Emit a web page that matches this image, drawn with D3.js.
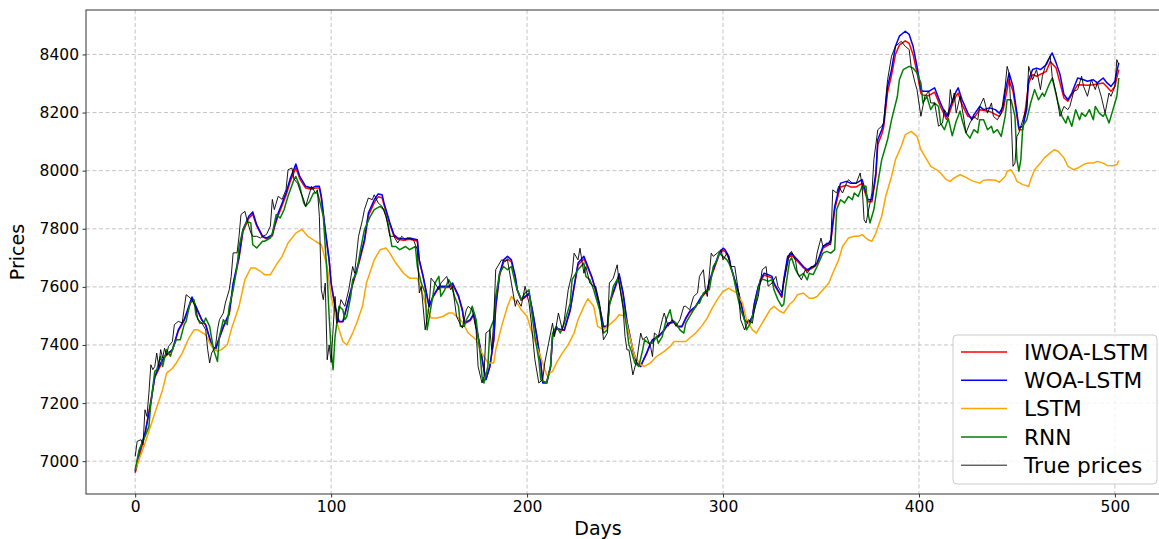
<!DOCTYPE html>
<html>
<head>
<meta charset="utf-8">
<script src="https://cdn.jsdelivr.net/npm/d3@7"></script>
<style>
body { margin: 0; background: #fff; }
text { font-family: "DejaVu Sans", sans-serif; fill: #000; }
</style>
</head>
<body>
<svg id="chart" width="1159" height="539"></svg>
<script>
// values, as [day, price] pairs
var xTicks = [0, 100, 200, 300, 400, 500];
var yTicks = [7000, 7200, 7400, 7600, 7800, 8000, 8200, 8400];
var seriesNames = ["IWOA-LSTM", "WOA-LSTM", "LSTM", "RNN", "True prices"];

var iwoaLstm = [[0,6960],[5,7092],[10,7288],[15,7358],[19,7382],[22,7448],[25,7484],[29,7558],[31,7530],[34,7485],[36,7468],[39,7400],[41,7384],[42,7405],[45,7460],[48,7505],[50,7605],[53,7698],[55,7790],[58,7836],[60,7850],[62,7810],[65,7772],[67,7765],[70,7776],[71,7803],[73,7846],[75,7880],[77,7915],[79,7960],[82,8010],[84,7972],[87,7940],[90,7936],[92,7940],[94,7940],[95,7906],[97,7792],[99,7690],[100,7610],[102,7530],[104,7480],[106,7480],[108,7530],[111,7608],[114,7676],[117,7755],[119,7845],[122,7890],[124,7910],[126,7907],[127,7882],[130,7815],[132,7776],[134,7764],[137,7760],[140,7764],[144,7758],[145,7690],[147,7632],[149,7565],[150,7532],[152,7565],[155,7598],[160,7598],[162,7608],[165,7566],[167,7518],[168,7473],[171,7484],[173,7506],[174,7462],[176,7394],[178,7314],[179,7282],[181,7326],[183,7416],[184,7528],[186,7640],[188,7685],[190,7696],[192,7686],[194,7632],[195,7588],[197,7554],[199,7564],[201,7576],[203,7508],[205,7428],[207,7338],[208,7272],[210,7272],[212,7326],[213,7426],[215,7455],[219,7450],[222,7518],[224,7598],[226,7675],[229,7696],[230,7682],[233,7632],[235,7588],[237,7530],[239,7462],[241,7462],[242,7540],[245,7598],[247,7638],[249,7576],[251,7478],[253,7414],[254,7382],[256,7338],[258,7326],[259,7342],[261,7370],[263,7404],[264,7416],[267,7427],[270,7450],[272,7472],[275,7478],[277,7462],[279,7462],[281,7490],[283,7512],[286,7530],[289,7563],[292,7586],[293,7614],[295,7654],[298,7710],[300,7726],[301,7722],[303,7700],[304,7667],[306,7622],[308,7576],[310,7519],[311,7486],[313,7474],[315,7496],[316,7540],[318,7597],[320,7630],[321,7640],[323,7636],[325,7630],[326,7609],[328,7586],[330,7564],[331,7620],[333,7698],[335,7710],[337,7695],[338,7688],[341,7666],[343,7655],[346,7666],[348,7678],[351,7733],[354,7745],[355,7755],[357,7866],[359,7922],[360,7944],[363,7950],[365,7944],[368,7944],[371,7956],[372,7934],[374,7893],[376,7893],[378,7980],[379,8090],[381,8125],[382,8150],[384,8270],[386,8328],[388,8400],[390,8432],[393,8447],[395,8438],[397,8400],[399,8338],[401,8266],[402,8260],[405,8258],[408,8270],[409,8254],[411,8220],[414,8177],[415,8188],[417,8228],[419,8258],[420,8267],[422,8227],[425,8187],[428,8181],[431,8210],[436,8204],[441,8187],[443,8210],[446,8313],[448,8273],[450,8187],[451,8141],[453,8141],[456,8302],[458,8331],[460,8325],[465,8342],[467,8376],[470,8353],[474,8250],[476,8239],[481,8296],[486,8294],[489,8296],[494,8302],[496,8288],[498,8273],[500,8290],[501,8320],[502,8348]];

var woaLstm = [[0,6965],[2,7030],[5,7096],[8,7200],[10,7292],[13,7338],[15,7361],[19,7384],[22,7452],[25,7487],[29,7565],[31,7533],[34,7487],[36,7470],[39,7401],[41,7384],[42,7407],[45,7464],[48,7510],[50,7613],[53,7705],[55,7797],[58,7843],[60,7858],[62,7814],[65,7774],[67,7768],[70,7780],[71,7809],[73,7854],[75,7889],[77,7924],[79,7970],[82,8023],[84,7980],[87,7946],[90,7940],[92,7946],[94,7946],[95,7912],[97,7797],[99,7693],[100,7613],[102,7533],[104,7481],[106,7481],[108,7533],[111,7613],[114,7682],[117,7762],[119,7854],[122,7900],[124,7920],[126,7917],[127,7889],[130,7820],[132,7780],[134,7768],[137,7765],[140,7768],[144,7762],[145,7693],[147,7636],[149,7567],[150,7533],[152,7567],[155,7602],[157,7602],[160,7602],[162,7613],[165,7570],[167,7521],[168,7475],[171,7487],[173,7510],[174,7464],[176,7395],[178,7315],[179,7280],[181,7326],[183,7418],[184,7533],[186,7647],[188,7693],[190,7705],[192,7693],[194,7636],[195,7590],[197,7556],[199,7567],[201,7579],[203,7510],[205,7429],[207,7338],[208,7269],[210,7269],[212,7326],[213,7429],[215,7458],[218,7452],[219,7452],[222,7521],[224,7602],[226,7682],[229,7705],[230,7688],[233,7636],[235,7590],[237,7533],[239,7464],[241,7464],[242,7544],[245,7602],[247,7645],[249,7579],[251,7480],[253,7415],[254,7383],[256,7338],[258,7326],[259,7343],[261,7372],[263,7406],[264,7418],[267,7429],[270,7452],[272,7475],[275,7481],[277,7464],[279,7464],[281,7493],[283,7516],[286,7533],[289,7567],[292,7590],[293,7619],[295,7659],[298,7716],[300,7733],[301,7728],[303,7705],[304,7670],[306,7625],[308,7579],[310,7521],[311,7487],[313,7475],[315,7498],[316,7544],[318,7602],[320,7636],[321,7647],[323,7642],[325,7636],[326,7613],[328,7590],[330,7567],[331,7625],[333,7705],[335,7716],[337,7700],[338,7693],[341,7670],[343,7659],[346,7670],[348,7682],[351,7739],[354,7751],[355,7762],[357,7877],[359,7934],[360,7957],[363,7963],[365,7957],[368,7957],[371,7969],[372,7946],[374,7900],[376,7900],[378,7992],[379,8107],[381,8141],[382,8164],[384,8290],[386,8348],[388,8428],[390,8463],[393,8480],[395,8469],[397,8428],[399,8359],[401,8279],[402,8273],[405,8273],[408,8285],[409,8267],[411,8233],[414,8187],[415,8200],[417,8240],[419,8273],[420,8285],[422,8244],[425,8198],[427,8175],[428,8192],[431,8221],[433,8210],[436,8216],[439,8210],[441,8198],[443,8221],[444,8273],[446,8336],[448,8290],[450,8198],[451,8147],[453,8153],[455,8210],[456,8313],[458,8348],[460,8353],[462,8348],[465,8365],[467,8394],[468,8405],[470,8371],[472,8331],[474,8262],[476,8244],[478,8267],[481,8319],[484,8313],[486,8308],[489,8313],[491,8302],[494,8319],[496,8302],[498,8290],[500,8308],[501,8342],[502,8371]];

var lstm = [[0,6970],[5,7062],[10,7165],[14,7246],[16,7303],[19,7320],[21,7338],[24,7372],[27,7418],[30,7452],[32,7452],[36,7435],[39,7395],[42,7378],[44,7384],[47,7401],[49,7452],[53,7533],[56,7625],[59,7665],[61,7665],[64,7653],[66,7642],[69,7642],[72,7676],[75,7705],[78,7751],[82,7785],[85,7798],[88,7775],[92,7757],[95,7745],[98,7670],[100,7567],[103,7475],[106,7412],[108,7400],[111,7441],[113,7475],[116,7533],[118,7613],[122,7693],[125,7728],[128,7734],[130,7716],[133,7682],[137,7647],[140,7630],[144,7630],[146,7590],[149,7521],[151,7493],[154,7493],[157,7498],[160,7510],[162,7510],[165,7493],[167,7478],[170,7441],[174,7418],[177,7372],[180,7338],[183,7338],[184,7383],[187,7464],[190,7533],[192,7567],[195,7544],[197,7521],[200,7498],[202,7452],[205,7395],[208,7338],[210,7297],[213,7309],[215,7338],[218,7372],[221,7401],[224,7441],[226,7487],[229,7533],[231,7559],[234,7533],[236,7464],[239,7452],[241,7464],[245,7487],[247,7504],[250,7500],[252,7440],[255,7360],[258,7332],[260,7326],[263,7338],[266,7360],[270,7378],[273,7395],[275,7412],[278,7412],[281,7412],[283,7424],[286,7441],[289,7464],[292,7493],[294,7521],[297,7556],[300,7584],[303,7596],[304,7590],[307,7579],[310,7544],[312,7487],[315,7452],[317,7441],[319,7464],[322,7498],[324,7521],[326,7533],[329,7516],[331,7510],[334,7540],[336,7552],[338,7573],[341,7579],[344,7561],[346,7561],[348,7567],[351,7590],[354,7613],[356,7647],[359,7693],[361,7739],[364,7768],[367,7774],[369,7774],[371,7780],[374,7762],[376,7757],[378,7785],[381,7843],[383,7911],[386,7980],[388,8038],[391,8084],[393,8124],[396,8135],[399,8118],[401,8072],[404,8038],[406,8015],[409,8003],[411,7992],[414,7969],[416,7963],[418,7975],[421,7986],[423,7980],[426,7969],[428,7963],[431,7957],[433,7967],[436,7969],[439,7967],[441,7960],[444,7980],[445,7998],[447,8003],[449,7980],[450,7963],[453,7952],[456,7946],[457,7969],[459,8003],[462,8026],[464,8044],[467,8061],[469,8072],[471,8067],[474,8044],[476,8015],[479,8003],[481,8009],[484,8021],[486,8026],[489,8026],[491,8032],[494,8026],[496,8018],[499,8017],[501,8021],[502,8035]];

var rnn = [[0,6970],[2,7039],[5,7085],[7,7119],[8,7200],[10,7309],[11,7315],[12,7338],[13,7361],[14,7326],[16,7384],[18,7361],[19,7384],[21,7418],[23,7418],[25,7470],[26,7481],[28,7544],[30,7556],[31,7504],[33,7475],[35,7475],[36,7493],[38,7464],[40,7384],[42,7343],[43,7429],[45,7487],[47,7470],[48,7533],[50,7590],[52,7670],[53,7739],[55,7797],[57,7825],[59,7820],[60,7745],[62,7734],[65,7757],[66,7757],[69,7768],[70,7785],[72,7849],[74,7837],[76,7866],[78,7912],[81,7969],[82,7980],[84,7946],[86,7889],[87,7877],[89,7894],[91,7923],[93,7923],[94,7900],[96,7843],[98,7636],[99,7498],[100,7383],[101,7315],[102,7429],[104,7533],[106,7521],[107,7487],[108,7498],[110,7567],[111,7625],[113,7647],[115,7728],[117,7797],[120,7843],[122,7866],[125,7877],[127,7866],[129,7820],[131,7739],[133,7739],[135,7728],[138,7739],[140,7728],[143,7739],[144,7670],[146,7613],[148,7579],[149,7452],[151,7533],[153,7613],[155,7636],[156,7567],[158,7590],[160,7625],[161,7613],[163,7567],[165,7533],[166,7464],[168,7464],[169,7487],[171,7510],[172,7533],[174,7487],[176,7372],[177,7292],[178,7269],[180,7326],[181,7452],[183,7487],[184,7567],[186,7647],[188,7670],[190,7659],[192,7670],[194,7613],[195,7590],[197,7556],[199,7579],[201,7590],[202,7533],[204,7429],[206,7349],[207,7280],[210,7269],[212,7326],[213,7441],[215,7464],[217,7441],[219,7475],[222,7544],[223,7625],[226,7659],[229,7682],[230,7636],[232,7625],[234,7590],[235,7567],[237,7521],[239,7441],[241,7452],[242,7533],[244,7602],[246,7625],[247,7615],[249,7540],[251,7452],[252,7400],[253,7383],[255,7338],[257,7326],[259,7383],[260,7418],[262,7406],[264,7406],[266,7429],[267,7406],[269,7429],[271,7487],[273,7521],[274,7487],[276,7475],[278,7452],[280,7441],[281,7475],[283,7498],[285,7521],[287,7544],[288,7544],[290,7579],[292,7590],[293,7590],[295,7670],[297,7693],[298,7716],[300,7705],[302,7693],[303,7682],[305,7647],[307,7579],[309,7521],[311,7487],[312,7452],[314,7475],[316,7521],[318,7590],[319,7625],[321,7625],[323,7619],[325,7625],[326,7590],[328,7556],[330,7533],[331,7540],[332,7600],[334,7690],[335,7700],[337,7659],[339,7636],[341,7647],[343,7624],[344,7647],[346,7642],[348,7670],[351,7716],[353,7722],[355,7716],[357,7728],[358,7866],[360,7900],[362,7889],[364,7911],[366,7900],[367,7923],[369,7911],[371,7946],[373,7946],[374,7854],[375,7820],[377,7866],[379,7957],[381,8038],[382,8061],[384,8107],[386,8175],[389,8256],[390,8313],[392,8348],[395,8359],[397,8353],[399,8336],[401,8302],[402,8233],[404,8256],[406,8210],[408,8233],[410,8221],[411,8164],[413,8141],[415,8180],[417,8120],[419,8170],[421,8205],[422,8175],[424,8130],[426,8112],[428,8141],[430,8130],[431,8175],[433,8175],[435,8141],[437,8153],[438,8130],[440,8141],[442,8118],[444,8187],[445,8244],[447,8244],[449,8187],[450,8038],[451,7998],[452,8038],[453,8153],[455,8175],[457,8233],[459,8279],[461,8244],[463,8267],[464,8256],[466,8290],[468,8319],[469,8290],[471,8233],[473,8187],[475,8164],[476,8187],[478,8153],[480,8210],[482,8175],[483,8198],[485,8187],[487,8210],[489,8175],[490,8221],[492,8198],[494,8187],[495,8198],[497,8164],[499,8210],[500,8233],[501,8256],[502,8319]];

var truePrices = [[0,7016],[1,7068],[3,7074],[4,7057],[5,7177],[6,7154],[7,7234],[8,7332],[9,7315],[10,7326],[11,7372],[12,7326],[13,7384],[14,7355],[15,7389],[16,7366],[17,7395],[19,7412],[20,7470],[22,7481],[24,7476],[26,7573],[27,7568],[29,7556],[31,7527],[32,7487],[34,7476],[36,7452],[37,7384],[38,7338],[39,7372],[41,7395],[42,7452],[43,7487],[45,7510],[46,7544],[48,7590],[49,7636],[50,7717],[52,7717],[53,7774],[54,7849],[56,7860],[57,7832],[59,7786],[60,7774],[62,7774],[64,7768],[65,7774],[67,7780],[69,7809],[70,7901],[71,7866],[73,7912],[75,7901],[77,7935],[78,8003],[80,8009],[81,7972],[83,7955],[84,7934],[86,7900],[87,7877],[89,7923],[90,7946],[92,7923],[93,7934],[94,7843],[95,7590],[96,7556],[97,7613],[98,7349],[99,7400],[100,7340],[102,7567],[103,7475],[105,7556],[107,7533],[109,7590],[111,7670],[112,7647],[114,7774],[116,7831],[117,7866],[119,7906],[121,7900],[122,7917],[124,7889],[126,7877],[128,7843],[130,7774],[132,7774],[134,7751],[136,7774],[138,7762],[139,7768],[142,7762],[144,7728],[145,7579],[146,7602],[148,7452],[150,7533],[151,7630],[153,7613],[155,7590],[156,7613],[159,7636],[161,7590],[162,7602],[164,7498],[166,7470],[167,7458],[169,7521],[170,7533],[172,7521],[174,7452],[175,7326],[177,7269],[178,7292],[179,7441],[181,7452],[182,7383],[183,7487],[184,7659],[187,7693],[189,7688],[190,7693],[192,7613],[194,7533],[195,7556],[197,7533],[199,7602],[201,7544],[202,7487],[204,7349],[206,7269],[208,7281],[209,7338],[211,7406],[213,7475],[214,7429],[216,7510],[218,7452],[219,7487],[221,7590],[223,7647],[224,7716],[226,7693],[227,7733],[229,7647],[230,7670],[232,7613],[234,7602],[235,7602],[237,7544],[239,7418],[241,7441],[242,7613],[244,7630],[246,7676],[247,7613],[249,7525],[250,7429],[251,7383],[252,7383],[254,7297],[256,7349],[258,7441],[259,7418],[261,7429],[263,7395],[264,7360],[265,7441],[267,7429],[269,7487],[270,7510],[272,7464],[274,7487],[276,7464],[278,7487],[280,7533],[281,7533],[283,7521],[285,7567],[287,7579],[288,7636],[290,7659],[291,7590],[292,7567],[294,7716],[295,7705],[297,7716],[299,7728],[300,7693],[302,7716],[304,7670],[306,7670],[308,7579],[309,7487],[311,7452],[313,7487],[315,7475],[316,7521],[318,7567],[320,7659],[322,7670],[323,7602],[325,7613],[327,7636],[328,7602],[330,7579],[332,7647],[334,7716],[335,7722],[337,7690],[338,7647],[340,7624],[342,7659],[343,7647],[345,7670],[347,7670],[348,7716],[350,7768],[351,7739],[353,7751],[355,7745],[356,7934],[358,7923],[359,7946],[361,7923],[363,7957],[364,7969],[366,7957],[368,7957],[370,7992],[371,7946],[372,7831],[373,7820],[374,7854],[376,7923],[377,8038],[379,8141],[381,8153],[382,8164],[383,8244],[384,8313],[386,8394],[388,8428],[390,8440],[391,8445],[393,8428],[395,8417],[396,8359],[398,8302],[399,8279],[401,8187],[403,8256],[405,8273],[406,8233],[408,8233],[410,8153],[412,8164],[413,8210],[415,8187],[416,8279],[417,8233],[418,8267],[419,8198],[421,8256],[423,8175],[424,8130],[426,8164],[428,8187],[430,8175],[431,8221],[433,8250],[435,8198],[437,8233],[438,8187],[440,8175],[442,8198],[444,8290],[445,8359],[446,8336],[447,8198],[448,8015],[449,8026],[450,8118],[451,8130],[453,8175],[455,8221],[456,8359],[458,8313],[460,8348],[462,8279],[463,8325],[465,8371],[467,8394],[468,8325],[470,8267],[472,8187],[474,8221],[476,8210],[477,8221],[479,8273],[481,8279],[483,8325],[484,8290],[486,8256],[488,8313],[490,8279],[491,8302],[493,8256],[495,8198],[497,8267],[498,8256],[500,8290],[501,8382],[502,8365]];

var allSeries = [iwoaLstm, woaLstm, lstm, rnn, truePrices];
var colors = ["red", "blue", "orange", "green", "black"];
var widths = [1.5, 1.5, 1.5, 1.5, 0.9];

var svg = d3.select("#chart");
var plotLeft = 86, plotRight = 1168, plotTop = 10, plotBottom = 494;

var x = d3.scaleLinear().domain([-25.1, 527.1]).range([plotLeft, plotRight]);
var y = d3.scaleLinear().domain([6887, 8553]).range([plotBottom, plotTop]);

svg.append("rect").attr("width", 1159).attr("height", 539).attr("fill", "#fff");

// grid
var grid = svg.append("g").attr("stroke", "#bdbdbd").attr("stroke-width", 0.9).attr("stroke-dasharray", "4,2.5");
grid.selectAll(".vg").data(xTicks).enter().append("line")
  .attr("x1", function(d) { return x(d); }).attr("x2", function(d) { return x(d); })
  .attr("y1", plotTop).attr("y2", plotBottom);
grid.selectAll(".hg").data(yTicks).enter().append("line")
  .attr("x1", plotLeft).attr("x2", plotRight)
  .attr("y1", function(d) { return y(d); }).attr("y2", function(d) { return y(d); });

var line = d3.line()
  .x(function(d) { return x(d[0]); })
  .y(function(d) { return y(d[1]); });

var lines = svg.append("g").attr("fill", "none");
allSeries.forEach(function(s, i) {
  lines.append("path")
    .datum(s)
    .attr("d", line)
    .attr("stroke", colors[i])
    .attr("stroke-width", widths[i])
    .attr("stroke-linejoin", "round");
});

// axes
var xAxis = svg.append("g").attr("transform", "translate(0," + plotBottom + ")")
  .call(d3.axisBottom(x).tickValues(xTicks).tickSize(3.5).tickPadding(3.5).tickFormat(d3.format("d")));
var yAxis = svg.append("g").attr("transform", "translate(" + plotLeft + ",0)")
  .call(d3.axisLeft(y).tickValues(yTicks).tickSize(3.5).tickPadding(3.5).tickFormat(d3.format("d")));
[xAxis, yAxis].forEach(function(a) {
  a.select(".domain").remove();
  a.selectAll("text").style("font-family", "DejaVu Sans").style("font-size", "15.5px").attr("fill", "#000");
  a.selectAll("line").attr("stroke", "#333").attr("stroke-width", 1);
});

svg.append("rect")
  .attr("x", plotLeft).attr("y", plotTop)
  .attr("width", plotRight - plotLeft).attr("height", plotBottom - plotTop)
  .attr("fill", "none").attr("stroke", "#333").attr("stroke-width", 1);

svg.append("text")
  .attr("x", 598).attr("y", 535)
  .attr("text-anchor", "middle").style("font-size", "19px")
  .text("Days");
svg.append("text")
  .attr("transform", "translate(24," + ((plotTop + plotBottom) / 2) + ") rotate(-90)")
  .attr("text-anchor", "middle").style("font-size", "19px")
  .text("Prices");

// legend
var legend = svg.append("g");
legend.append("rect")
  .attr("x", 953).attr("y", 335).attr("width", 204).attr("height", 149)
  .attr("rx", 4).attr("fill", "#fff").attr("fill-opacity", 0.8)
  .attr("stroke", "#cccccc").attr("stroke-width", 1);
seriesNames.forEach(function(name, i) {
  var ly = 352 + i * 28.3;
  legend.append("line")
    .attr("x1", 961).attr("x2", 1007).attr("y1", ly).attr("y2", ly)
    .attr("stroke", colors[i]).attr("stroke-width", widths[i]);
  legend.append("text")
    .attr("x", 1024).attr("y", ly).attr("dy", "0.36em")
    .style("font-size", "21.7px")
    .text(name);
});
</script>
</body>
</html>
